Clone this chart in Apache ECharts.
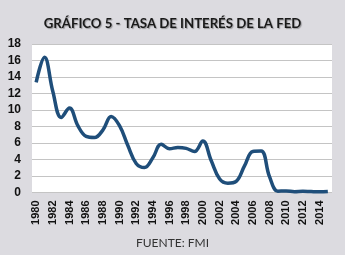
<!DOCTYPE html>
<html><head><meta charset="utf-8">
<script src="https://cdn.jsdelivr.net/npm/echarts@6/dist/echarts.min.js"></script>
<style>html,body{margin:0;padding:0;background:#dcdbe0}#c{width:345px;height:255px}</style>
</head><body><div id="c"></div>
<script>
const years = ['1980','1981','1982','1983','1984','1985','1986','1987','1988','1989','1990','1991','1992','1993','1994','1995','1996','1997','1998','1999','2000','2001','2002','2003','2004','2005','2006','2007','2008','2009','2010','2011','2012','2013','2014','2015'];
const rates = [13.35,16.39,12.24,9.09,10.23,8.10,6.80,6.66,7.57,9.21,8.10,5.69,3.52,3.02,4.20,5.84,5.30,5.46,5.35,4.97,6.24,3.88,1.67,1.13,1.35,3.22,4.97,5.02,1.92,0.16,0.18,0.10,0.14,0.11,0.09,0.13];
const yTicks = {min:0, max:18, interval:2};
const titleText = 'GRÁFICO 5 - TASA DE INTERÉS DE LA FED';
const sourceText = 'FUENTE: FMI';

const chart = echarts.init(document.getElementById('c'), null, {renderer:'canvas'});
chart.setOption({
  backgroundColor:'#dcdbe0',
  animation:false,
  title:[{
    text:titleText, left:'center', top:12,
    textStyle:{fontFamily:'Lato', fontWeight:'bold', fontSize:13.2, color:'#1a1a1a',
      textShadowColor:'rgba(0,0,0,0.3)', textShadowBlur:1, textShadowOffsetX:1, textShadowOffsetY:1}
  },{
    text:sourceText, left:'center', top:232,
    textStyle:{fontFamily:'Lato', fontWeight:'normal', fontSize:12, color:'#333'}
  }],
  grid:{left:32, right:13, top:44, bottom:62.5, show:true, backgroundColor:'#ffffff', borderWidth:0},
  xAxis:{
    type:'category', data:years, boundaryGap:true,
    axisLine:{show:false}, axisTick:{show:false},
    axisLabel:{rotate:90, interval:1, fontFamily:'Liberation Sans', fontWeight:'bold', fontSize:11, color:'#111', margin:8}
  },
  yAxis:{
    type:'value', min:yTicks.min, max:yTicks.max, interval:yTicks.interval,
    axisLine:{show:false}, axisTick:{show:false},
    axisLabel:{fontFamily:'Liberation Sans', fontWeight:'bold', fontSize:12, color:'#111', margin:11},
    splitLine:{lineStyle:{color:'#c4c4c4', width:1}}
  },
  series:[{
    type:'line', data:rates, smooth:0.4, symbol:'none',
    lineStyle:{color:'#1f4e7a', width:3.5}
  }]
});
</script></body></html>
